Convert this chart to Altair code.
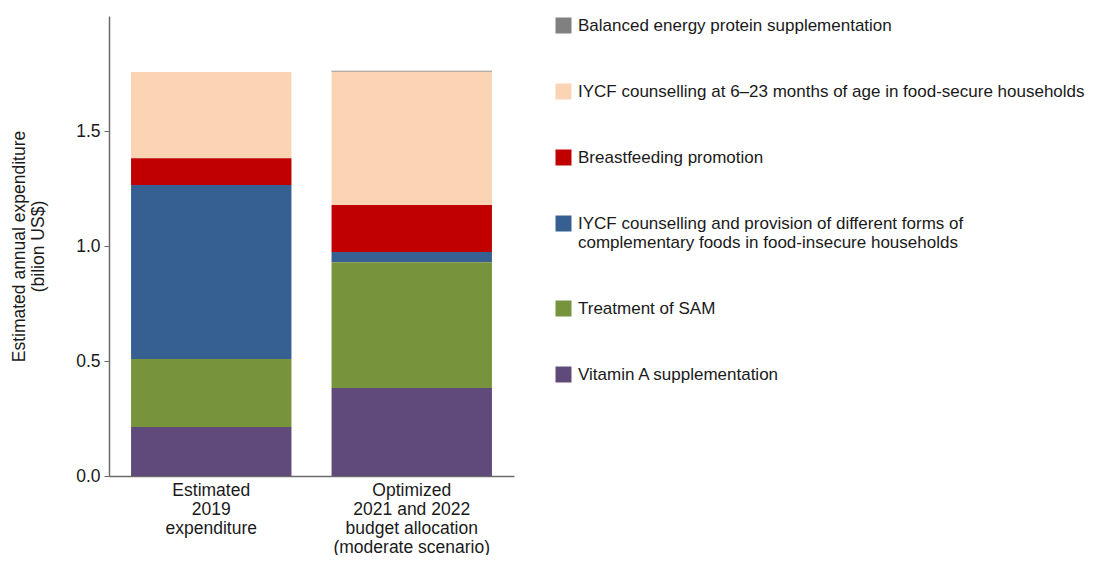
import altair as alt
import pandas as pd

categories = [
    "Estimated|2019|expenditure",
    "Optimized|2021 and 2022|budget allocation|(moderate scenario)",
]
interventions = [
    "Balanced energy protein supplementation",
    "IYCF counselling at 6–23 months of age in food-secure households",
    "Breastfeeding promotion",
    "IYCF counselling and provision of different forms of|complementary foods in food-insecure households",
    "Treatment of SAM",
    "Vitamin A supplementation",
]
colors = ["#808080", "#FBD4B4", "#C00000", "#366092", "#77933C", "#604A7B"]
est_2019 = [0.0, 0.374, 0.117, 0.756, 0.296, 0.213]
opt_2021_2022 = [0.004, 0.580, 0.204, 0.045, 0.546, 0.383]

rows = []
for cat, vals in zip(categories, [est_2019, opt_2021_2022]):
    for i, (name, v) in enumerate(zip(interventions, vals)):
        rows.append({"category": cat, "intervention": name, "value": v,
                     "stack_order": len(interventions) - 1 - i})
df = pd.DataFrame(rows)

FONT = "Liberation Sans"
FS = 17.5
AXIS_COLOR = "#6b6b6b"

chart = (
    alt.Chart(df)
    .mark_bar()
    .encode(
        x=alt.X(
            "category:N",
            sort=categories,
            scale=alt.Scale(paddingInner=0.2, paddingOuter=0.11),
            axis=alt.Axis(
                title=None,
                labelAngle=0,
                ticks=False,
                labelExpr="split(datum.label, '|')",
                labelLineHeight=19,
                labelPadding=5,
                labelFontSize=FS,
                labelColor="#1a1a1a",
                labelFont=FONT,
                domainColor=AXIS_COLOR,
                domainWidth=1.5,
                labelLimit=300,
            ),
        ),
        y=alt.Y(
            "value:Q",
            stack="zero",
            scale=alt.Scale(domain=[0, 2.0], nice=False),
            axis=alt.Axis(
                title=["Estimated annual expenditure", "(bilion US$)"],
                titleFontWeight="normal",
                titleFontSize=FS,
                titleFont=FONT,
                titleColor="#1a1a1a",
                titlePadding=28,
                values=[0, 0.5, 1.0, 1.5],
                format=".1f",
                grid=False,
                labelFontSize=FS,
                labelFont=FONT,
                labelColor="#1a1a1a",
                labelPadding=4,
                tickSize=5,
                tickColor=AXIS_COLOR,
                domainColor=AXIS_COLOR,
                domainWidth=1.5,
            ),
        ),
        color=alt.Color(
            "intervention:N",
            scale=alt.Scale(domain=interventions, range=colors),
            legend=alt.Legend(
                title=None,
                orient="none",
                legendX=446,
                legendY=1,
                symbolType="square",
                symbolSize=256,
                symbolStrokeWidth=0,
                symbolOpacity=1,
                labelFontSize=17,
                labelFont=FONT,
                labelColor="#1a1a1a",
                labelOffset=6,
                labelLimit=700,
                rowPadding=48,
                labelExpr="split(datum.label, '|')",
                padding=0,
            ),
        ),
        order=alt.Order("stack_order:Q", sort="ascending"),
    )
    .properties(
        width=405,
        height=460,
        padding={"left": 2, "top": 8, "right": 0, "bottom": -1},
    )
    .configure_view(strokeWidth=0, stroke=None)
)

chart.save("out.html", embed_options={"renderer": "svg", "actions": False})
